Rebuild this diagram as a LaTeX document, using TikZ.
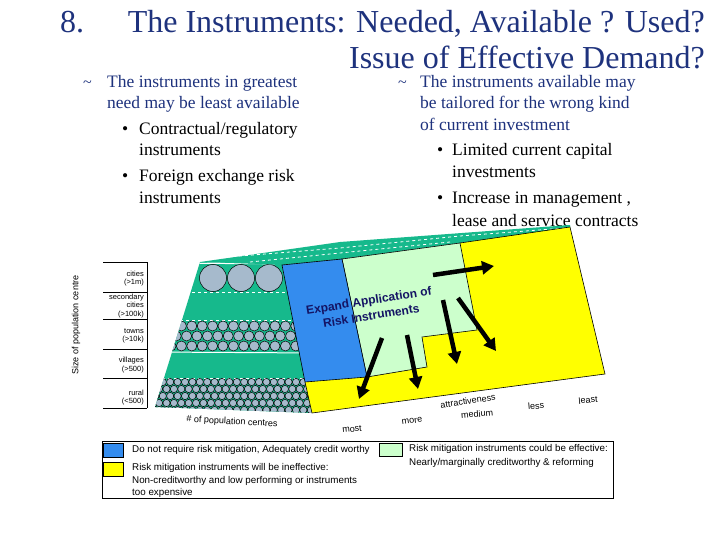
\documentclass[tikz,border=0pt]{standalone}
\usepackage{fontspec}
\setmainfont{Liberation Serif}
\setsansfont{Liberation Sans}
\definecolor{TitleBlue}  {RGB}{30,50,125}
\definecolor{SlabTeal}   {RGB}{22,185,140}
\definecolor{BlockBlue}  {RGB}{52,140,238}
\definecolor{BlockGreen} {RGB}{204,255,204}
\definecolor{BlockYellow}{RGB}{255,255,0}
\definecolor{HutGrey}    {RGB}{166,186,204}
\definecolor{LabelNavy}  {RGB}{20,20,100}
\usetikzlibrary{arrows.meta,positioning}

\begin{document}
\begin{tikzpicture}[x=1pt,y=-1pt,every node/.style={inner sep=0pt},
    title/.style={font=\fontsize{32}{36}\selectfont,text=TitleBlue,anchor=base east},
    point/.style={font=\fontsize{17.5}{21}\selectfont,anchor=base west},
    axis/.style={font=\sffamily\fontsize{9}{10}\selectfont},
    row/.style={font=\sffamily\fontsize{7.5}{8.6}\selectfont,align=right,anchor=east},
    key/.style={font=\sffamily\fontsize{9.8}{12}\selectfont,anchor=base west},
    block/.style={draw=black,line width=0.6pt},
    hut/.style={fill=HutGrey,draw=black,line width=0.5pt},
    push/.style={-{Triangle[length=12pt,width=13pt]},line width=4.5pt}]
  \fill[white] (0,0) rectangle (720,540);
  \useasboundingbox (0,0) rectangle (720,540);

  % heading
  \node[title,anchor=base west] (num) at (60,32.5) {8.};
  \node[title] (head1) at (705,32.5) {The Instruments: Needed, Available ? Used?};
  \node[title,text depth=0pt] (head2) at (705,68.5) {Issue of Effective Demand?};

  % two columns of points
  \foreach \x in {83,398}
    \node[point,text=TitleBlue,font=\fontsize{16}{16}\selectfont,text height=5pt] at (\x,88) {\textasciitilde};
  \foreach \x/\y in {122/135,122/182,437/156,437/204}
    \node[point] at (\x,\y) {\textbullet};
  \foreach \x/\y/\c/\t in {
      107/88/TitleBlue/{The instruments in greatest},
      107/109/TitleBlue/{need may be least available},
      139/135/black/{Contractual/regulatory},
      139/156/black/{instruments},
      139/182/black/{Foreign exchange risk},
      139/204/black/{instruments},
      420/88/TitleBlue/{The instruments available may},
      420/109/TitleBlue/{be tailored for the wrong kind},
      420/131/TitleBlue/{of current investment},
      452/156/black/{Limited current capital},
      452/178/black/{investments},
      452/204/black/{Increase in management ,},
      452/226/black/{lease and service contracts}}
    \node[point,text=\c] at (\x,\y) {\t};

  % top face of the slab
  \fill[SlabTeal] (200,262) -- (340,242) -- (570,225) -- (570,228)
    -- (460,243) -- (342,259) -- (282,265) -- cycle;
  \draw[white,dashed,line width=0.8pt] (215,258) -- (340,248) -- (460,236) -- (565,228);
  \draw[white,dashed,line width=0.8pt] (250,262) -- (340,253) -- (450,242);

  % front face: population centres
  \fill[SlabTeal] (200,262) -- (282,265) -- (312,413) -- (155,407) -- cycle;
  \begin{scope}
    \clip (200,262) -- (282,265) -- (312,413) -- (155,407) -- cycle;
    \draw[white,line width=1pt] (150,263) -- (300,264);
    \draw[white,line width=1pt] (150,352) -- (320,353);
    \foreach \y in {292,320,378}
      \draw[white,dashed,line width=1pt] (150,\y) -- (320,\y);
    \foreach \x in {213,241,269}
      \filldraw[hut] (\x,278) circle (13.5);
    \foreach \y/\s in {326/0,336/5.2,346/0}
      \foreach \i in {0,...,12}
        \filldraw[hut] (171+\s+10.4*\i,\y) circle (5);
    \foreach \y/\s in {382/0,389/3.7,396/0,403/3.7,410/0}
      \foreach \i in {0,...,23}
        \filldraw[hut] (148+\s+7.4*\i,\y) circle (3.6);
  \end{scope}

  % creditworthiness blocks
  \filldraw[block,fill=BlockYellow] (460,243) -- (570,227) -- (605,374)
    -- (312,413) -- (305,382) -- cycle;
  \filldraw[block,fill=BlockGreen] (342,259) -- (460,243) -- (477,330)
    -- (422,337) -- (427,367) -- (367,377) -- cycle;
  \filldraw[block,fill=BlockBlue] (282,265) -- (342,259) -- (367,377) -- (305,382) -- cycle;

  \node[font=\sffamily\bfseries\fontsize{12}{15.5}\selectfont,text=LabelNavy,
        align=center,rotate=9] (expand) at (370,308)
    {Expand Application of\\Risk Instruments};
  \foreach \a/\b in {{433,275}/{494,266},{382,338}/{359,399},{407,335}/{418,389},
                     {443,300}/{457,364},{458,298}/{496,351}}
    \draw[push] (\a) -- (\b);

  % size axis
  \draw[line width=0.7pt] (147,262) -- (147,408);
  \foreach \y in {262,292,319,349,378,408}
    \draw[line width=0.7pt] (103,\y) -- (147,\y);
  \foreach \y/\t in {278.5/{cities\\(>1m)},306/{secondary\\cities\\(>100k)},
                     336/{towns\\(>10k)},365/{villages\\(>500)},397.5/{rural\\(<500)}}
    \node[row] at (144,\y) {\t};
  \node[axis,rotate=90] (sizelbl) at (76,325) {Size of population centre};

  \foreach \x/\y/\r/\t in {232/422/-3/{\# of population centres},352/429/5/most,
      412/421/8/more,468/401/8/attractiveness,477/414/5/medium,
      536/406/5/less,588/400/5/least}
    \node[axis,rotate=\r] at (\x,\y) {\t};

  % legend
  \draw[line width=0.7pt] (102,441) rectangle (613,498);
  \filldraw[block,fill=BlockBlue]   (103,443) rectangle (123,457);
  \filldraw[block,fill=BlockYellow] (103,462) rectangle (123,476);
  \filldraw[block,fill=BlockGreen]  (379,443) rectangle (402,456);
  \foreach \x/\y/\t in {
      132/452/{Do not require risk mitigation, Adequately credit worthy},
      132/470/{Risk mitigation instruments will be ineffective:},
      132/483/{Non-creditworthy and low performing or instruments},
      132/495/{too expensive},
      409/451/{Risk mitigation instruments could be effective:},
      409/465/{Nearly/marginally creditworthy \& reforming}}
    \node[key] at (\x,\y) {\t};
\end{tikzpicture}
\end{document}
